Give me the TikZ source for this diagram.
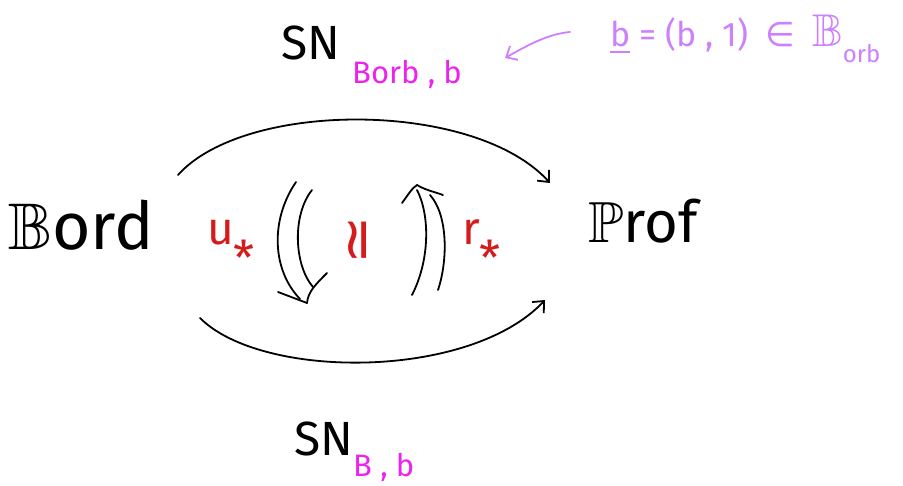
\documentclass[tikz,border=0pt]{standalone}
\usepackage{fontspec}
\usepackage{amssymb}
\setmainfont{Fira Sans}
\newfontfamily\dejavu{DejaVu Sans}
\usetikzlibrary{arrows.meta}
\definecolor{hred}{HTML}{D41C1C}
\definecolor{hmag}{HTML}{EE22EE}
\definecolor{hlav}{HTML}{CC80FF}
\newcommand{\lowstar}{\raisebox{-31pt}{\fontsize{48}{48}\selectfont *}}
\begin{document}
\begin{tikzpicture}[x=1pt,y=-1pt,line cap=round,line join=round,
  conn/.style={line width=1.8pt,-{Straight Barb[length=9pt,width=16pt,line width=1.8pt]}},
  cellline/.style={line width=1.8pt},
  big/.style={font=\fontsize{66}{66}\selectfont,inner sep=0pt,anchor=base west},
  sn/.style={font=\fontsize{48}{48}\selectfont,inner sep=0pt,anchor=base west},
  sub/.style={font=\fontsize{31}{31}\selectfont,text=hmag,inner sep=0pt,anchor=base west},
  lbl/.style={font=\fontsize{46}{46}\selectfont,text=hred,inner sep=0pt,anchor=base west}]
\useasboundingbox (0,0) rectangle (903,486);
% objects
\node[big] (bord) at (8,250) {$\mathbb{B}$ord};
\node[big,font=\fontsize{58}{58}\selectfont] (prof) at (588,243) {$\mathbb{P}$rof};
% labels of the arcs
\node[sn] (sntop) at (281,60) {SN};
\node[sub] (subtop) at (352,84) {Borb , b};
\node[sn] (snbot) at (294,455) {SN};
\node[sub] (subbot) at (353,476) {B , b};
% annotation
\node[font=\fontsize{34}{34}\selectfont,text=hlav,inner sep=0pt,anchor=base west] (note) at (610,47)
  {\underline{b} = (b , 1)\enspace{\dejavu ∈}\enspace\scalebox{1.35}{$\mathbb{B}$}\raisebox{-0.45em}{\fontsize{24}{24}\selectfont orb}};
\coordinate (na) at (570,32);
\coordinate (nb) at (505,58);
\draw[line width=1.8pt,hlav,-{Straight Barb[length=9pt,width=16pt,line width=1.8pt]}]
  (na) .. controls (548,34) and (528,45) .. (nb);
% arcs
\coordinate (ta) at (178,175);
\coordinate (tb) at (550,183);
\coordinate (ba) at (200,318);
\coordinate (bb) at (545,300);
\draw[conn] (ta) .. controls (245,100) and (475,100) .. (tb);
\draw[conn] (ba) .. controls (262,380) and (470,380) .. (bb);
% left 2-cell (down)
\coordinate (lo1) at (296,182);
\coordinate (lo2) at (300,299);
\coordinate (li1) at (312,190);
\coordinate (li2) at (313,287);
\coordinate (ltip) at (307,303);
\coordinate (lbl1) at (278,292);
\coordinate (lbr1) at (327,273);
\draw[cellline] (lo1) .. controls (270,220) and (272,270) .. (lo2);
\draw[cellline] (li1) .. controls (292,215) and (294,265) .. (li2);
\draw[cellline] (lbl1) -- (ltip);
\draw[cellline] (lbr1) .. controls (315,285) and (308,292) .. (ltip);
% right 2-cell (up)
\coordinate (ro1) at (438,290);
\coordinate (ro2) at (430,195);
\coordinate (ri1) at (412,295);
\coordinate (ri2) at (417,190);
\coordinate (rtip) at (417,185);
\coordinate (rbl) at (402,203);
\coordinate (rbr) at (443,195);
\draw[cellline] (ro1) .. controls (448,260) and (448,215) .. (ro2);
\draw[cellline] (ri1) .. controls (430,260) and (430,215) .. (ri2);
\draw[cellline] (rbl) .. controls (408,195) and (412,188) .. (rtip);
\draw[cellline] (rtip) .. controls (425,190) and (435,192) .. (rbr);
% red labels
\node[lbl] (ustar) at (207,245) {u\lowstar};
\node[font=\dejavu\fontsize{58}{58}\selectfont,text=hred,inner sep=0pt,rotate=90] (iso) at (362,240) {≃};
\node[lbl] (rstar) at (462,245) {r\lowstar};
\end{tikzpicture}
\end{document}
